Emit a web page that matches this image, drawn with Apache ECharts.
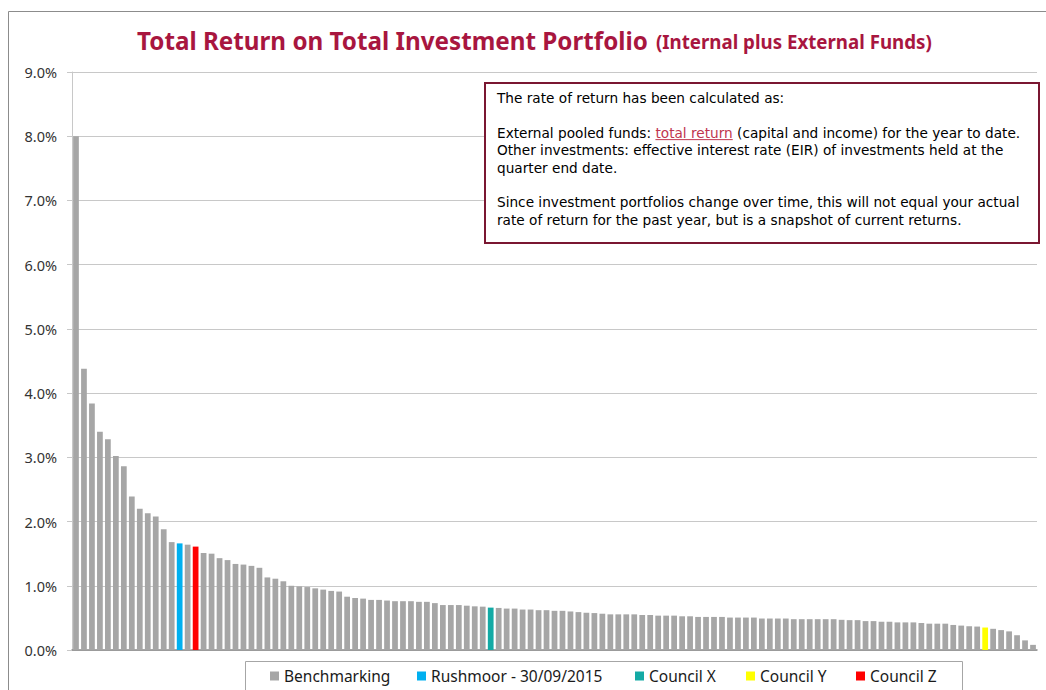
<!DOCTYPE html>
<html><head><meta charset="utf-8">
<script src="https://cdn.jsdelivr.net/npm/echarts@6/dist/echarts.min.js"></script>
<style>html,body{margin:0;padding:0;background:#fff}#c{width:1046px;height:690px}</style>
</head><body><div id="c"></div>
<script>
// ---------- DATA ----------
const returnValues = [
  8.00, 4.38, 3.84, 3.40, 3.28, 3.02, 2.86, 2.39, 2.20, 2.13,
  2.08, 1.88, 1.68, 1.66, 1.64, 1.61, 1.51, 1.50, 1.43, 1.40,
  1.34, 1.33, 1.31, 1.28, 1.13, 1.11, 1.07, 1.00, 0.99, 0.98,
  0.96, 0.94, 0.92, 0.91, 0.83, 0.81, 0.80, 0.78, 0.78, 0.77,
  0.76, 0.76, 0.76, 0.75, 0.75, 0.73, 0.70, 0.70, 0.70, 0.69,
  0.68, 0.675, 0.66, 0.655, 0.645, 0.645, 0.63, 0.63, 0.62, 0.62,
  0.61, 0.61, 0.60, 0.59, 0.58, 0.575, 0.565, 0.555, 0.555, 0.555,
  0.555, 0.545, 0.545, 0.535, 0.535, 0.535, 0.525, 0.525, 0.515, 0.515,
  0.515, 0.515, 0.505, 0.505, 0.505, 0.505, 0.49, 0.49, 0.49, 0.49,
  0.48, 0.48, 0.48, 0.48, 0.48, 0.48, 0.47, 0.465, 0.465, 0.45,
  0.45, 0.44, 0.44, 0.43, 0.43, 0.43, 0.42, 0.41, 0.41, 0.41,
  0.39, 0.38, 0.37, 0.365, 0.35, 0.33, 0.31, 0.29, 0.23, 0.15,
  0.08
];
const categories = returnValues.map((_, i) => 'Org ' + (i + 1));
const seriesNames = ['Benchmarking', 'Rushmoor - 30/09/2015', 'Council X', 'Council Y', 'Council Z'];
const seriesColors = ['#a6a6a6', '#00b0f0', '#14aaa5', '#ffff00', '#ff0000'];
// index of the highlighted organisation for each non-benchmark series
const highlightIndex = { 'Rushmoor - 30/09/2015': 13, 'Council Z': 15, 'Council X': 52, 'Council Y': 114 };
const yMin = 0, yMax = 9, yInterval = 1;

const titleMain = 'Total Return on Total Investment Portfolio';
const titleSub = '(Internal plus External Funds)';
const notePre = 'External pooled funds: ';
const noteLink = 'total return';
const noteLines = [
  'The rate of return has been calculated as:',
  '',
  notePre + '{u|' + noteLink + '} (capital and income) for the year to date.',
  'Other investments: effective interest rate (EIR) of investments held at the',
  'quarter end date.',
  '',
  'Since investment portfolios change over time, this will not equal your actual',
  'rate of return for the past year, but is a snapshot of current returns.'
];

// ---------- HELPERS ----------
const FONT = '"Noto Sans", "DejaVu Sans", sans-serif';
const NOTE_FONT = '"DejaVu Sans", Verdana, sans-serif';
const ctx2d = document.createElement('canvas').getContext('2d');
function tw(str, size, weight, fam) {
  ctx2d.font = (weight || 'normal') + ' ' + size + 'px ' + (fam || FONT);
  return ctx2d.measureText(str).width;
}
const titleSize = 22 * 511 / tw(titleMain, 22, 'bold');
const subSize = 16 * 276 / tw(titleSub, 16, 'bold');
const fullLine3 = notePre + noteLink + ' (capital and income) for the year to date.';
const noteSize = Math.min(14.8, 13 * 524 / tw(fullLine3, 13, 'normal', NOTE_FONT));

const highlighted = new Set(Object.values(highlightIndex));
const series = seriesNames.map((name, k) => ({
  name,
  type: 'bar',
  barGap: '-100%',
  barWidth: '72%',
  itemStyle: { color: seriesColors[k] },
  emphasis: { disabled: true },
  data: returnValues.map((v, i) => {
    if (k === 0) return highlighted.has(i) ? '-' : v;
    return i === highlightIndex[name] ? v : '-';
  })
}));

// ---------- GRAPHICS ----------
const graphics = [];
graphics.push({ type: 'rect', silent: true, z: 0, shape: { x: 8.5, y: 11.5, width: 1100, height: 720 },
  style: { fill: 'none', stroke: '#8c8c8c', lineWidth: 1 } });
const titleX = 137, titleY = 40;
graphics.push({ type: 'text', x: titleX, y: titleY, silent: true,
  style: { text: titleMain, fill: '#a8163f', fontSize: titleSize, fontWeight: 'bold', fontFamily: FONT, verticalAlign: 'middle', align: 'left' } });
graphics.push({ type: 'text', x: titleX + tw(titleMain, titleSize, 'bold') + 8, y: titleY + 1, silent: true,
  style: { text: titleSub, fill: '#a8163f', fontSize: subSize, fontWeight: 'bold', fontFamily: FONT, verticalAlign: 'middle', align: 'left' } });

// note box
graphics.push({ type: 'rect', z: 100, silent: true, shape: { x: 485, y: 83, width: 554, height: 160 },
  style: { fill: '#ffffff', stroke: '#7a1731', lineWidth: 2 } });
const noteX = 497, noteY0 = 98, noteLH = 17.4;
graphics.push({ type: 'text', z: 101, x: noteX, y: noteY0 - noteLH / 2, silent: true,
  style: { text: noteLines.join('\n'), fill: '#000000', fontSize: noteSize, fontFamily: NOTE_FONT,
    lineHeight: noteLH, verticalAlign: 'top', align: 'left',
    rich: { u: { fill: '#c0364f', color: '#c0364f', fontSize: noteSize, fontFamily: NOTE_FONT, lineHeight: noteLH } } } });
const ulX = noteX + tw(notePre, noteSize, 'normal', NOTE_FONT);
const ulY = noteY0 + 2 * noteLH + noteSize * 0.5;
graphics.push({ type: 'line', z: 101, silent: true,
  shape: { x1: ulX, y1: ulY, x2: ulX + tw(noteLink, noteSize, 'normal', NOTE_FONT), y2: ulY },
  style: { stroke: '#c0364f', lineWidth: 1 } });

// legend box
graphics.push({ type: 'rect', silent: true, z: 0, shape: { x: 245.5, y: 661.5, width: 717, height: 40 },
  style: { fill: 'none', stroke: '#a6a6a6', lineWidth: 1 } });

// one legend per entry, positioned as in the reference
const legendLeft = [270, 417, 635, 746, 856];
const legends = seriesNames.map((name, k) => ({
  data: [name],
  left: legendLeft[k], top: 665,
  itemGap: 0, itemWidth: 9, itemHeight: 9, icon: 'rect',
  selectedMode: false, padding: 0,
  textStyle: { fontSize: 15.5, fontFamily: FONT, color: '#1a1a1a', lineHeight: 22 }
}));

// ---------- CHART ----------
const chart = echarts.init(document.getElementById('c'), null, { renderer: 'svg' });
chart.setOption({
  animation: false,
  backgroundColor: '#ffffff',
  grid: { left: 72, right: 9, top: 72, bottom: 40, containLabel: false },
  legend: legends,
  xAxis: {
    type: 'category', data: categories,
    axisLine: { show: true, lineStyle: { color: '#8c8c8c', width: 1.5 } },
    axisTick: { show: false }, axisLabel: { show: false }, splitLine: { show: false }
  },
  yAxis: {
    type: 'value', min: yMin, max: yMax, interval: yInterval,
    axisLine: { show: true, lineStyle: { color: '#c8c8c8' } },
    axisTick: { show: true, length: 5, lineStyle: { color: '#c8c8c8' } },
    axisLabel: { margin: 15, fontSize: 14.5, fontFamily: FONT, color: '#333333', formatter: v => v.toFixed(1) + '%' },
    splitLine: { show: true, lineStyle: { color: '#c8c8c8', width: 1 } }
  },
  graphic: graphics,
  series
});
</script>
</body></html>
